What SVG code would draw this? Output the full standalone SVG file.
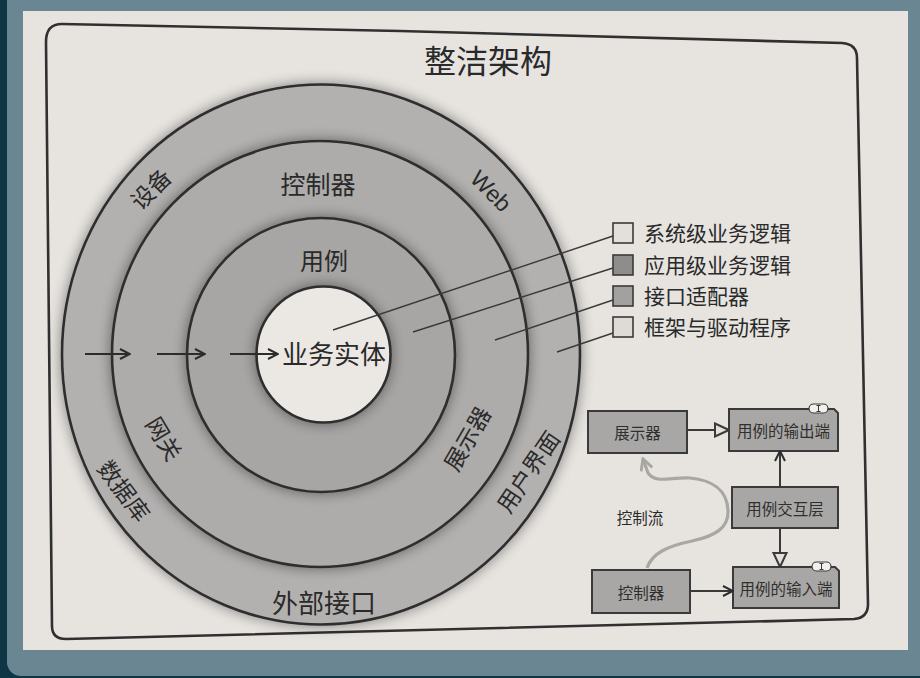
<svg xmlns="http://www.w3.org/2000/svg" width="920" height="678" viewBox="0 0 920 678">
<style>
.t{font-family:"Noto Sans CJK SC","Noto Sans",sans-serif;fill:#2a2a2a}
.lbl{font-size:23px;text-anchor:middle;dominant-baseline:central}
.ring{stroke:#2e2e2e;stroke-width:2.6}
.leg{stroke:#3a3a3a;stroke-width:1.4}
.lt{font-size:21px}
.conn{stroke:#333;stroke-width:1.4;fill:none}
.box{fill:#a9a7a5;stroke:#3a3a3a;stroke-width:2}
.bt{font-size:15.5px;text-anchor:middle;dominant-baseline:central;fill:#2f2f2f}
.arr{stroke:#2c2c2c;stroke-width:2;fill:none}
.fl{stroke:#3a3a3a;stroke-width:2;fill:none}
</style>
<defs>
<filter id="sh" x="-20%" y="-20%" width="140%" height="140%">
<feGaussianBlur in="SourceAlpha" stdDeviation="7"/>
<feComponentTransfer><feFuncA type="linear" slope="0.45"/></feComponentTransfer>
<feMerge><feMergeNode/><feMergeNode in="SourceGraphic"/></feMerge>
</filter>
<marker id="openV" viewBox="0 0 12 12" refX="11" refY="6" markerWidth="12" markerHeight="12" markerUnits="userSpaceOnUse" orient="auto">
<path d="M1 1 L11 6 L1 11" fill="none" stroke="#2c2c2c" stroke-width="2"/>
</marker>
<marker id="hollow" viewBox="0 0 16 16" refX="15" refY="8" markerWidth="16" markerHeight="16" markerUnits="userSpaceOnUse" orient="auto">
<path d="M1 1.5 L15 8 L1 14.5 Z" fill="#e4e1dd" stroke="#3a3a3a" stroke-width="2"/>
</marker>
<marker id="flowHead" viewBox="0 0 14 14" refX="12" refY="7" markerWidth="14" markerHeight="14" markerUnits="userSpaceOnUse" orient="auto">
<path d="M1 1 L12 7 L1 13" fill="none" stroke="#a9a7a4" stroke-width="3"/>
</marker>
</defs>

<!-- photo background -->
<rect x="0" y="0" width="920" height="678" fill="#0e3644"/>
<rect x="7" y="-14" width="926" height="690" rx="14" fill="#6a8693"/>
<rect x="23" y="11" width="885" height="639" fill="#e7e4e0"/>

<!-- frame -->
<path d="M46 42 Q46 24 62 24 L400 31 L842 43 Q857 44 857 58 L868 604 Q868 618 854 619 L66 639 Q52 639 52 626 Z" fill="none" stroke="#303030" stroke-width="2.6"/>

<text class="t" x="488" y="73" font-size="32" text-anchor="middle">整洁架构</text>

<!-- rings -->
<g id="ring-frameworks">
<ellipse class="ring" cx="321" cy="354.5" rx="259" ry="270" fill="#b3b1af" filter="url(#sh)"/>
</g>
<g id="ring-adapters">
<ellipse class="ring" cx="320" cy="354" rx="208" ry="213" fill="#aeacaa" filter="url(#sh)"/>
</g>
<g id="ring-usecases">
<ellipse class="ring" cx="321" cy="355" rx="134" ry="137" fill="#a8a6a4" filter="url(#sh)"/>
</g>
<g id="ring-entities">
<ellipse class="ring" cx="323.5" cy="354.5" rx="67" ry="68" fill="#ebe8e4" filter="url(#sh)"/>
</g>

<!-- ring labels -->
<g id="ring-labels">
<text class="t lbl" x="150" y="188" transform="rotate(-45 150 188)" font-size="22">设备</text>
<text class="t lbl" x="491" y="191" transform="rotate(45 491 191)" style="font-family:'Liberation Sans','Noto Sans',sans-serif;font-size:23px">Web</text>
<text class="t" x="318" y="194" font-size="25" text-anchor="middle">控制器</text>
<text class="t" x="324" y="270" font-size="24" text-anchor="middle">用例</text>
<text class="t" x="334" y="364" font-size="26" text-anchor="middle">业务实体</text>
<text class="t lbl" x="165" y="438" transform="rotate(59 165 438)" font-size="22">网关</text>
<text class="t lbl" x="125" y="490" transform="rotate(53 125 490)" font-size="22">数据库</text>
<text class="t lbl" x="466" y="438" transform="rotate(-60 466 438)" font-size="23">展示器</text>
<text class="t lbl" x="527" y="471" transform="rotate(-56 527 471)" font-size="23">用户界面</text>
<text class="t" x="324" y="613" font-size="26" text-anchor="middle">外部接口</text>
</g>

<!-- legend -->
<g id="legend-entities">
<rect x="613" y="223" width="20" height="20" fill="#e3e0dc" stroke="#3a3a3a" stroke-width="1.6"/>
<text class="t lt" x="644" y="241">系统级业务逻辑</text>
</g>
<g id="legend-usecases">
<rect x="613" y="255" width="20" height="20" fill="#8f8d8b" stroke="#3a3a3a" stroke-width="1.6"/>
<text class="t lt" x="644" y="273">应用级业务逻辑</text>
</g>
<g id="legend-adapters">
<rect x="613" y="286" width="20" height="20" fill="#a3a19f" stroke="#3a3a3a" stroke-width="1.6"/>
<text class="t lt" x="644" y="304">接口适配器</text>
</g>
<g id="legend-frameworks">
<rect x="613" y="317" width="20" height="20" fill="#dedbd7" stroke="#3a3a3a" stroke-width="1.6"/>
<text class="t lt" x="644" y="335">框架与驱动程序</text>
</g>

<!-- flow diagram nodes -->
<g id="node-presenter">
<rect class="box" x="588" y="411" width="99" height="42"/>
<text class="t bt" x="637.5" y="432">展示器</text>
</g>
<g id="node-output-port">
<path class="box" d="M729 409 L834 409 L838 413 L838 451 L729 451 Z"/>
<rect x="809" y="404" width="19" height="9" rx="4.5" fill="#f2f0ed" stroke="#3a3a3a" stroke-width="1.2"/>
<path d="M818.5 405.5 V411.5 M816.5 405.5 H820.5 M816.5 411.5 H820.5" stroke="#3a3a3a" stroke-width="1"/>
<text class="t bt" x="783.5" y="430">用例的输出端</text>
</g>
<g id="node-interactor">
<rect class="box" x="732" y="487" width="106" height="41"/>
<text class="t bt" x="785" y="507.5">用例交互层</text>
</g>
<g id="node-controller">
<rect class="box" x="592" y="570" width="98" height="43"/>
<text class="t bt" x="641" y="591.5">控制器</text>
</g>
<g id="node-input-port">
<path class="box" d="M733 567 L835 567 L839 571 L839 608 L733 608 Z"/>
<rect x="812" y="562" width="19" height="9" rx="4.5" fill="#f2f0ed" stroke="#3a3a3a" stroke-width="1.2"/>
<path d="M821.5 563.5 V569.5 M819.5 563.5 H823.5 M819.5 569.5 H823.5" stroke="#3a3a3a" stroke-width="1"/>
<text class="t bt" x="786" y="587.5">用例的输入端</text>
</g>
<text class="t" x="640" y="524" font-size="15.5" text-anchor="middle" fill="#333">控制流</text>

<!-- connectors -->
<g id="connectors">
<line class="arr" x1="85" y1="354" x2="130" y2="354" marker-end="url(#openV)"/>
<line class="arr" x1="157" y1="354" x2="205" y2="354" marker-end="url(#openV)"/>
<line class="arr" x1="230" y1="354" x2="278" y2="354" marker-end="url(#openV)"/>
<line class="leg" x1="333" y1="330" x2="613" y2="236"/>
<line class="leg" x1="413" y1="332" x2="613" y2="268"/>
<line class="leg" x1="495" y1="340" x2="613" y2="300"/>
<line class="leg" x1="557" y1="352" x2="613" y2="333"/>
<line class="fl" x1="687" y1="430" x2="729" y2="430" marker-end="url(#hollow)"/>
<line class="fl" x1="780" y1="487" x2="780" y2="451" marker-end="url(#openV)"/>
<line class="fl" x1="780" y1="528" x2="780" y2="567" marker-end="url(#hollow)"/>
<line class="fl" x1="690" y1="591" x2="733" y2="591" marker-end="url(#openV)"/>
<path d="M647 568 C652 553 668 546 692 541 C715 536 729 528 728 510 C727 490 712 480 690 478 C670 477 656 484 648 473 L643 459" fill="none" stroke="#a9a7a4" stroke-width="3.2" marker-end="url(#flowHead)"/>
</g>
</svg>
